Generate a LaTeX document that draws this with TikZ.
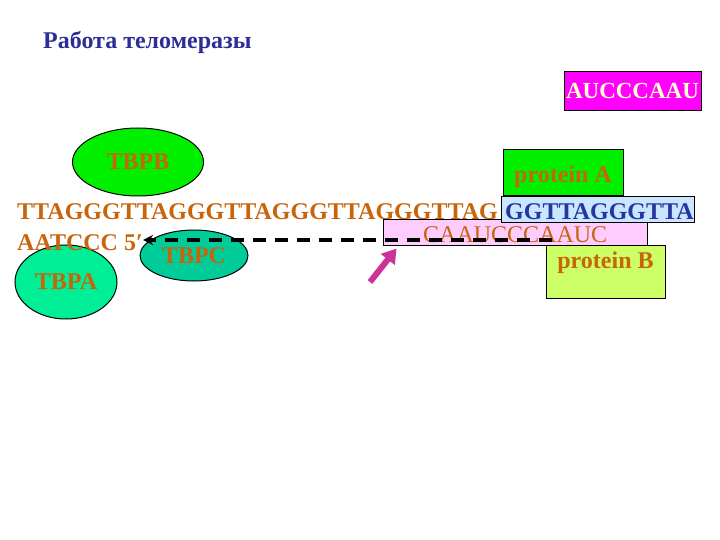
\documentclass[tikz,border=0pt]{standalone}
\usepackage{fontspec}
\setmainfont{Liberation Serif}
\usetikzlibrary{arrows.meta,shapes.geometric}
\definecolor{seqorange}{RGB}{200,100,10}
\definecolor{titleblue}{RGB}{45,45,150}
\definecolor{tealc}{RGB}{0,204,153}
\definecolor{springa}{RGB}{0,238,150}
\definecolor{brightgreen}{RGB}{0,240,0}
\definecolor{limeb}{RGB}{204,255,102}
\definecolor{pinkbox}{RGB}{255,204,255}
\definecolor{bluebox}{RGB}{204,229,255}
\definecolor{bluetext}{RGB}{35,55,160}
\definecolor{magentabox}{RGB}{255,0,255}
\definecolor{magarrow}{RGB}{204,51,153}
\definecolor{paleyellow}{RGB}{255,255,204}
\tikzset{
  seqtext/.style={font=\fontsize{24}{28}\selectfont\bfseries, text=seqorange, inner sep=0pt},
  ovalbox/.style={ellipse, draw=black, line width=1pt, font=\fontsize{24}{28}\selectfont\bfseries, text=seqorange, inner sep=0pt},
  protbox/.style={draw=black, line width=1pt, font=\fontsize{24}{28}\selectfont\bfseries, text=seqorange, inner sep=0pt},
}
\begin{document}
\begin{tikzpicture}[x=1pt,y=-1pt]
\useasboundingbox (0,0) rectangle (720,540);
% title
\node[anchor=base west, inner sep=0pt, font=\fontsize{24}{28}\selectfont\bfseries, text=titleblue] (title) at (43,49) {Работа теломеразы};
% magenta box
\node[draw=black, line width=1pt, fill=magentabox, minimum width=137pt, minimum height=39pt, inner sep=0pt,
      font=\fontsize{23}{27}\selectfont\bfseries, text=paleyellow] (rna) at (632.5,91.5) {AUCCCAAU};
% TBPB
\node[ovalbox, fill=brightgreen, minimum width=131pt, minimum height=68pt] (tbpb) at (138,162) {TBPB};
% protein A
\node[protbox, fill=brightgreen, minimum width=120pt, minimum height=46pt] (protA) at (563,173) {};
\node[seqtext, anchor=base] (protAtext) at (563,183) {protein A};
% main sequence
\node[seqtext, anchor=base west] (seq1) at (17,220) {TTAGGGTTAGGGTTAGGGTTAGGGTTAG};
% pink box
\node[draw=black, line width=1pt, fill=pinkbox, minimum width=264pt, minimum height=25pt, inner sep=0pt] (pink) at (515,232.5) {};
\node[font=\fontsize{24}{28}\selectfont, text=seqorange, inner sep=0pt, anchor=base west] (rnatext) at (423,242) {CAAUCCCAAUC};
% blue box
\node[draw=black, line width=1pt, fill=bluebox, minimum width=193pt, minimum height=26pt, inner sep=0pt] (blue) at (597.5,210) {};
\node[font=\fontsize{24}{28}\selectfont\bfseries, text=bluetext, inner sep=0pt, anchor=base west] (bluetxt) at (505,220) {GGTTAGGGTTA};
% protein B
\node[protbox, fill=limeb, minimum width=119pt, minimum height=53pt] (protB) at (605.5,271.5) {};
\node[seqtext, anchor=base] (protBtext) at (605.5,268) {protein B};
% TBPA
\node[ovalbox, fill=springa, minimum width=102pt, minimum height=74pt] (tbpa) at (66,282) {TBPA};
% second strand
\node[seqtext, anchor=base west] (seq2) at (17,250) {AATCCC 5′};
% TBPC
\node[ovalbox, fill=tealc, minimum width=108pt, minimum height=51pt] (tbpc) at (194,255.5) {TBPC};
% dashed arrow
\coordinate (dashstart) at (552,240);
\draw[black, line width=3.5pt, dash pattern=on 13pt off 9pt, -{Stealth[length=10pt,width=10pt]}] (dashstart) -- (seq2.east |- dashstart);
% magenta arrow
\coordinate (magtail) at (370,282);
\draw[magarrow, line width=6pt, -{Triangle[length=14pt,width=17pt]}] (magtail) -- ([xshift=14pt,yshift=-3pt]pink.south west);
\end{tikzpicture}
\end{document}
